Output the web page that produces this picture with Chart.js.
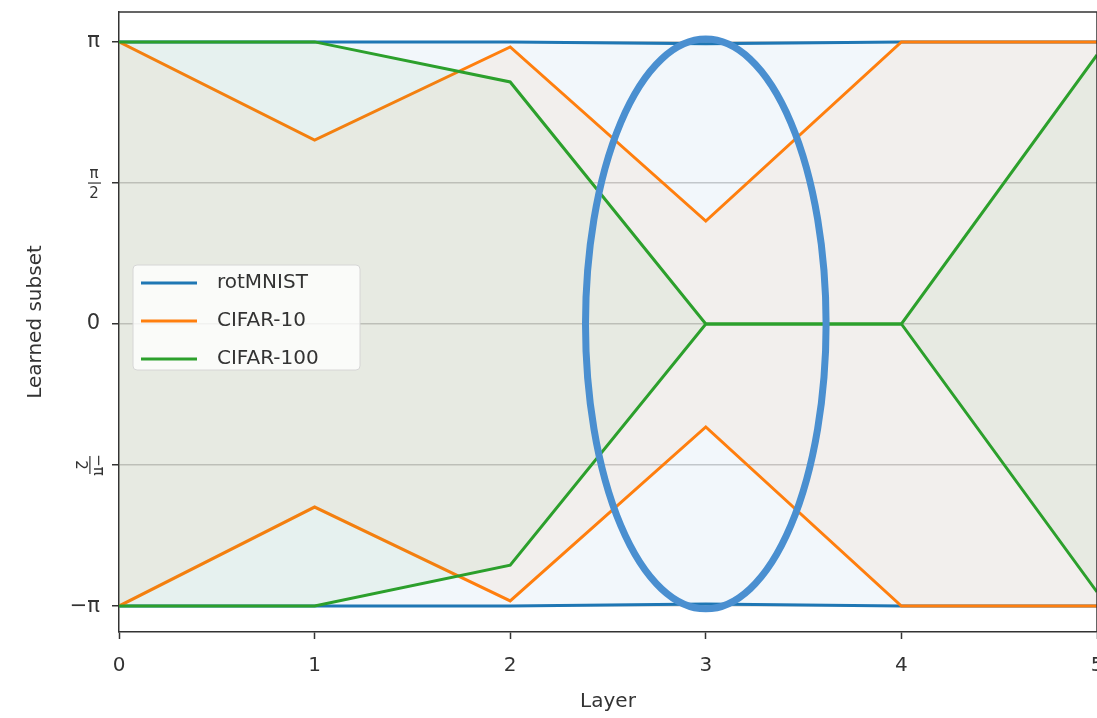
<!DOCTYPE html>
<html>
<head>
<meta charset="utf-8">
<script src="https://cdn.jsdelivr.net/npm/chart.js@4.4.0/dist/chart.umd.min.js"></script>
<style>
  html, body { margin: 0; padding: 0; background: #fff; overflow: hidden; }
  #wrap { width: 1130px; height: 718px; }
</style>
</head>
<body>
<div id="wrap"><canvas id="myChart" width="1130" height="718"></canvas></div>
<script>
// values are in units of pi
const layers = [0, 1, 2, 3, 4, 5];
const seriesNames = ['rotMNIST', 'CIFAR-10', 'CIFAR-100'];
const seriesColors = ['#1f77b4', '#ff7f0e', '#2ca02c'];
const fillColors = ['rgba(31,119,180,0.06)', 'rgba(255,127,14,0.06)', 'rgba(44,160,44,0.06)'];

const rotUpper = [1, 1, 1, 0.993, 1, 1];
const rotLower = [-1, -1, -1, -0.993, -1, -1];
const c10Upper = [1, 0.652, 0.982, 0.365, 1, 1];
const c10Lower = [-1, -0.649, -0.982, -0.365, -1, -1];
const c100Upper = [1, 1, 0.858, 0, 0, 0.954];
const c100Lower = [-1, -1, -0.855, 0, 0, -0.95];

const yTicks = [-1, -0.5, 0, 0.5, 1];
const yTickLabels = ['−π', '', '0', '', 'π'];
const xTicks = [0, 1, 2, 3, 4, 5];

// highlighted ellipse (center x, half width in layers, half height in pi)
const ellipseX = 3, ellipseY = 0, ellipseW = 0.615, ellipseH = 1.01;

const uppers = [rotUpper, c10Upper, c100Upper];
const lowers = [rotLower, c10Lower, c100Lower];

const datasets = [];
seriesNames.forEach((name, i) => {
  datasets.push({
    label: name,
    data: layers.map((x, j) => ({x: x, y: uppers[i][j]})),
    borderColor: seriesColors[i],
    backgroundColor: fillColors[i],
    borderWidth: 3,
    pointRadius: 0,
    fill: '+1',
    order: 3 - i
  });
  datasets.push({
    label: name + ' low',
    data: layers.map((x, j) => ({x: x, y: lowers[i][j]})),
    borderColor: seriesColors[i],
    borderWidth: 3,
    pointRadius: 0,
    fill: false,
    order: 3 - i
  });
});

const font = "'DejaVu Sans', sans-serif";

const extras = {
  id: 'extras',
  afterDatasetsDraw(chart) {
    const ctx = chart.ctx;
    const xs = chart.scales.x, ys = chart.scales.y;
    // ellipse
    const cx = xs.getPixelForValue(ellipseX), cy = ys.getPixelForValue(ellipseY);
    const rx = xs.getPixelForValue(ellipseX + ellipseW) - cx;
    const ry = cy - ys.getPixelForValue(ellipseY + ellipseH);
    ctx.save();
    ctx.beginPath();
    ctx.ellipse(cx, cy, rx, ry, 0, 0, Math.PI * 2);
    ctx.strokeStyle = '#4a8fd0';
    ctx.lineWidth = 7;
    ctx.stroke();
    ctx.restore();
  },
  afterDraw(chart) {
    const ctx = chart.ctx;
    const ys = chart.scales.y;
    const a = chart.chartArea;
    ctx.save();
    // top border
    ctx.strokeStyle = '#333';
    ctx.lineWidth = 1.5;
    ctx.beginPath();
    ctx.moveTo(a.left, a.top);
    ctx.lineTo(a.right, a.top);
    ctx.lineTo(a.right, a.bottom);
    ctx.stroke();

    // fraction tick labels
    ctx.fillStyle = '#333';
    ctx.font = '15px ' + font;
    ctx.textAlign = 'center';
    ctx.textBaseline = 'middle';
    let py = ys.getPixelForValue(0.5);
    ctx.fillText('π', 94, py - 9);
    ctx.fillRect(88, py - 0.5, 13, 1.2);
    ctx.fillText('2', 94, py + 11);

    py = ys.getPixelForValue(-0.5);
    ctx.translate(90, py);
    ctx.rotate(Math.PI / 2);
    ctx.fillText('−π', 0, -8);
    ctx.fillRect(-9, -0.5, 18, 1.2);
    ctx.fillText('2', 0, 10);
    ctx.restore();

    // legend
    ctx.save();
    const lx = 133, ly = 265, lw = 227, lh = 105;
    ctx.beginPath();
    ctx.roundRect(lx, ly, lw, lh, 4);
    ctx.fillStyle = 'rgba(255,255,255,0.8)';
    ctx.fill();
    ctx.strokeStyle = '#d6d6d6';
    ctx.lineWidth = 1;
    ctx.stroke();
    ctx.font = '20px ' + font;
    ctx.textBaseline = 'middle';
    seriesNames.forEach((name, i) => {
      const y = 283 + i * 38;
      ctx.strokeStyle = seriesColors[i];
      ctx.lineWidth = 3;
      ctx.beginPath();
      ctx.moveTo(141, y);
      ctx.lineTo(197, y);
      ctx.stroke();
      ctx.fillStyle = '#333';
      ctx.fillText(name, 217, y);
    });
    ctx.restore();
  }
};

const noPad = s => { s.paddingTop = 0; s.paddingBottom = 0; s.paddingLeft = 0; s.paddingRight = 0; };

const ctx = document.getElementById('myChart').getContext('2d');
const myChart = new Chart(ctx, {
  type: 'line',
  data: { datasets: datasets },
  plugins: [extras],
  options: {
    responsive: false,
    animation: false,
    layout: { padding: { left: 0, top: 12, right: 33, bottom: 0 } },
    plugins: {
      legend: { display: false },
      tooltip: { enabled: false }
    },
    scales: {
      x: {
        type: 'linear',
        min: 0,
        max: 5,
        afterFit: s => { s.height = 86; noPad(s); },
        afterBuildTicks: s => { s.ticks = xTicks.map(v => ({value: v})); },
        grid: { drawOnChartArea: false, tickLength: 7, color: '#333', tickWidth: 1.5 },
        border: { color: '#333', width: 1.5 },
        ticks: { color: '#333', font: { family: font, size: 20 }, padding: 15, maxRotation: 0 },
        title: { display: true, text: 'Layer', color: '#333', font: { family: font, size: 20 }, padding: { top: 0 } }
      },
      y: {
        type: 'linear',
        min: -1.092,
        max: 1.106,
        afterFit: s => { s.width = 119; noPad(s); },
        afterBuildTicks: s => { s.ticks = yTicks.map(v => ({value: v})); },
        grid: { color: 'rgba(170,170,170,0.6)', lineWidth: 1.5, tickLength: 7, tickColor: '#333', tickWidth: 1.5 },
        border: { color: '#333', width: 1.5 },
        ticks: {
          color: '#333',
          font: { family: font, size: 21 },
          padding: 12,
          callback: (v, i) => yTickLabels[i]
        },
        title: { display: true, text: 'Learned subset', color: '#333', font: { family: font, size: 20 }, padding: { bottom: 0, top: 24 } }
      }
    }
  }
});
</script>
</body>
</html>
